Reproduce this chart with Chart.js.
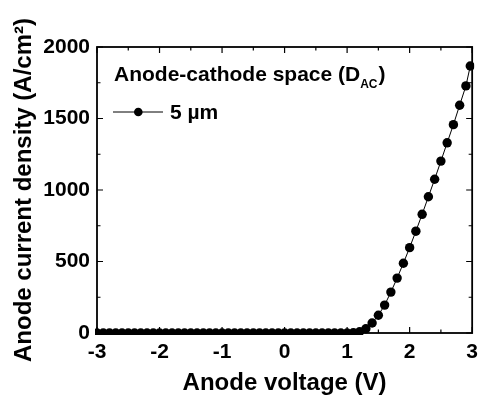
<!DOCTYPE html>
<html>
<head>
<meta charset="utf-8">
<script src="https://cdn.jsdelivr.net/npm/chart.js@4/dist/chart.umd.min.js"></script>
<style>
html,body{margin:0;padding:0;background:#fff;}
canvas{display:block;}
</style>
</head>
<body>
<canvas id="c" width="485" height="403"></canvas>
<script>
const voltage = [-3.0,-2.9,-2.8,-2.7,-2.6,-2.5,-2.4,-2.3,-2.2,-2.1,-2.0,-1.9,-1.8,-1.7,-1.6,-1.5,-1.4,-1.3,-1.2,-1.1,-1.0,-0.9,-0.8,-0.7,-0.6,-0.5,-0.4,-0.3,-0.2,-0.1,0.0,0.1,0.2,0.3,0.4,0.5,0.6,0.7,0.8,0.9,1.0,1.1,1.2,1.3,1.4,1.5,1.6,1.7,1.8,1.9,2.0,2.1,2.2,2.3,2.4,2.5,2.6,2.7,2.8,2.9,2.97];
const currentDensity = [0,0,0,0,0,0,0,0,0,0,0,0,0,0,0,0,0,0,0,0,0,0,0,0,0,0,0,0,0,0,0,0,0,0,0,0,0,0,0,0,0,2,9,30,70,124,195,286,384,488,597,712,830,953,1075,1202,1330,1457,1593,1728,1867];
const xTicks = [-3,-2,-1,0,1,2,3];
const xMinorTicks = [-2.5,-1.5,-0.5,0.5,1.5,2.5];
const yTicks = [0,500,1000,1500,2000];
const yMinorTicks = [250,750,1250,1750];
const seriesLabel = '5 \u00b5m';
const legendTitleMain = 'Anode-cathode space (D';
const legendTitleSub = 'AC';
const legendTitleEnd = ')';
const xTitle = 'Anode voltage (V)';
const yTitle = 'Anode current density (A/cm\u00b2)';

const FONT = '"Liberation Sans", Arial, sans-serif';

const framePlugin = {
  id: 'frame',
  afterDraw(chart) {
    const ctx = chart.ctx;
    const a = chart.chartArea;
    const xs = chart.scales.x, ys = chart.scales.y;
    ctx.save();
    ctx.strokeStyle = '#000';
    ctx.lineWidth = 1.8;
    ctx.strokeRect(a.left, a.top, a.right - a.left, a.bottom - a.top);
    ctx.lineWidth = 1.2;
    ctx.beginPath();
    const tick = (vals, len) => {
      vals.forEach(v => {
        const px = xs.getPixelForValue(v);
        ctx.moveTo(px, a.bottom); ctx.lineTo(px, a.bottom - len);
        ctx.moveTo(px, a.top); ctx.lineTo(px, a.top + len);
      });
    };
    const ticky = (vals, len) => {
      vals.forEach(v => {
        const py = ys.getPixelForValue(v);
        ctx.moveTo(a.left, py); ctx.lineTo(a.left + len, py);
        ctx.moveTo(a.right, py); ctx.lineTo(a.right - len, py);
      });
    };
    tick(xTicks, 6); tick(xMinorTicks, 3.5);
    ticky(yTicks, 6); ticky(yMinorTicks, 3.5);
    ctx.stroke();

    // legend
    ctx.fillStyle = '#000';
    ctx.textBaseline = 'alphabetic';
    ctx.textAlign = 'left';
    ctx.font = 'bold 21px ' + FONT;
    let x = 114;
    ctx.fillText(legendTitleMain, x, 81);
    x += ctx.measureText(legendTitleMain).width;
    ctx.font = 'bold 12px ' + FONT;
    ctx.fillText(legendTitleSub, x, 88);
    x += ctx.measureText(legendTitleSub).width;
    ctx.font = 'bold 21px ' + FONT;
    ctx.fillText(legendTitleEnd, x + 1, 81);

    ctx.lineWidth = 1;
    ctx.beginPath();
    ctx.moveTo(113, 112); ctx.lineTo(163, 112);
    ctx.stroke();
    ctx.beginPath();
    ctx.arc(138.3, 112, 4.3, 0, Math.PI * 2);
    ctx.fill();
    ctx.fillText(seriesLabel, 170, 119);
    ctx.restore();
  }
};

new Chart(document.getElementById('c'), {
  type: 'line',
  data: {
    datasets: [{
      label: seriesLabel,
      data: voltage.map((v, i) => ({x: v, y: currentDensity[i]})),
      borderColor: '#000',
      borderWidth: 1,
      backgroundColor: '#000',
      pointRadius: 4.7,
      pointBackgroundColor: '#000',
      pointBorderWidth: 0,
      tension: 0,
      clip: 2
    }]
  },
  options: {
    responsive: false,
    animation: false,
    events: [],
    layout: {padding: {left: 0, right: 7, top: 47, bottom: 0}},
    plugins: {legend: {display: false}, tooltip: {enabled: false}},
    scales: {
      x: {
        type: 'linear',
        min: -3, max: 3,
        grid: {display: false, drawTicks: false},
        border: {display: false},
        afterBuildTicks: s => { s.ticks = xTicks.map(v => ({value: v})); },
        afterFit: s => { s.height = 70; },
        ticks: {
          color: '#000', padding: 7, maxRotation: 0, autoSkip: false,
          font: {family: FONT, size: 21, weight: 'bold'},
          callback: v => String(v)
        },
        title: {
          display: true, text: xTitle, color: '#000',
          font: {family: FONT, size: 24, weight: 'bold'},
          padding: {top: 0, bottom: 5}
        }
      },
      y: {
        type: 'linear',
        min: 0, max: 2000,
        grid: {display: false, drawTicks: false},
        border: {display: false},
        afterBuildTicks: s => { s.ticks = yTicks.map(v => ({value: v})); },
        afterFit: s => { s.width = 97; },
        ticks: {
          color: '#000', padding: 7, autoSkip: false,
          font: {family: FONT, size: 21, weight: 'bold'},
          callback: v => String(v)
        },
        title: {
          display: true, text: yTitle, color: '#000',
          font: {family: FONT, size: 24, weight: 'bold'},
          padding: {top: 10, bottom: 0}
        }
      }
    }
  },
  plugins: [framePlugin]
});
</script>
</body>
</html>
